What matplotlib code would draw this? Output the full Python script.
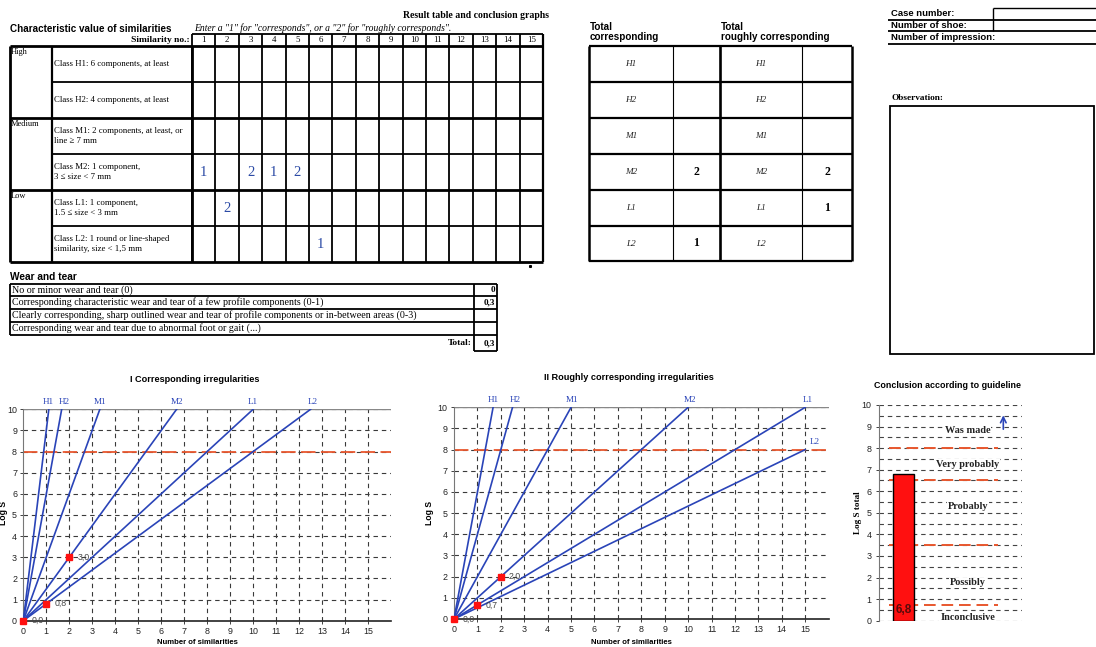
import matplotlib
matplotlib.use("Agg")
import matplotlib.pyplot as plt
from matplotlib.patches import Rectangle

W, H = 1096, 647

# ---------------- data ----------------
class_codes = ["H1", "H2", "M1", "M2", "L1", "L2"]
group_names = ["High", "Medium", "Low"]
class_descr = [
    "Class H1: 6 components, at least",
    "Class H2: 4 components, at least",
    "Class M1: 2 components, at least, or\nline \u2265 7 mm",
    "Class M2: 1 component,\n3 \u2264 size < 7 mm",
    "Class L1: 1 component,\n1.5 \u2264 size < 3 mm",
    "Class L2: 1 round or line-shaped\nsimilarity, size < 1,5 mm",
]
similarity_no = list(range(1, 16))
entry_class = ["M2", "L1", "M2", "M2", "M2", "L2"]
entry_no = [1, 2, 3, 4, 5, 6]
entry_val = ["1", "2", "2", "1", "2", "1"]

total_corr = ["", "", "", "2", "", "1"]
total_rough = ["", "", "", "2", "1", ""]

wear_items = [
    "No or minor wear and tear (0)",
    "Corresponding characteristic wear and tear of a few profile components (0-1)",
    "Clearly corresponding, sharp outlined wear and tear of profile components or in-between areas (0-3)",
    "Corresponding wear and tear due to abnormal foot or gait (...)",
]
wear_values = ["0", "0,3", "", ""]
wear_total = "0,3"

case_fields = ["Case number:", "Number of shoe:", "Number of impression:"]

# Chart I: corresponding irregularities (class lines from origin)
line_end_x_corr = [1.11, 1.67, 3.33, 6.67, 10.0, 12.5]
line_end_y_corr = [10, 10, 10, 10, 10, 10]
pts_x_corr = [0, 1, 2]
pts_y_corr = [0.0, 0.8, 3.0]
pt_labels_corr = ["0,0", "0,8", "3,0"]

# Chart II: roughly corresponding irregularities
line_end_x_rough = [1.67, 2.5, 5.0, 10.0, 15.0, 15.0]
line_end_y_rough = [10, 10, 10, 10, 10, 8]
pts_x_rough = [0, 1, 2]
pts_y_rough = [0.0, 0.67, 2.0]
pt_labels_rough = ["0,0", "0,7", "2,0"]

threshold = 8
x_ticks = list(range(0, 16))
y_ticks = list(range(0, 11))

# Chart III: conclusion
log_s_total = 6.8
log_s_label = "6,8"
conclusion_bounds = [0.75, 3.5, 6.5, 8.0]
conclusion_labels = ["Inconclusive", "Possibly", "Probably", "Very probably", "Was made"]
conclusion_label_y = [0.15, 1.75, 5.3, 7.25, 8.8]
minor_grid = [i * 0.5 for i in range(0, 21)]

# ---------------- styles ----------------
SERIF = "Liberation Serif"
SANS = "Liberation Sans"
BLUE = "#2a44b8"
HAND = "#2b4aa5"
RED = "#ff1010"
ORANGE = "#e8572e"
GRID = "#3a3a3a"

fig = plt.figure(figsize=(W / 100, H / 100), dpi=100)
fig.patch.set_facecolor("white")
bg = fig.add_axes([0, 0, 1, 1])
bg.set_xlim(0, W)
bg.set_ylim(H, 0)
bg.axis("off")


def hline(y, x0, x1, lw=1.0, c="black"):
    bg.plot([x0, x1], [y, y], color=c, lw=lw, solid_capstyle="butt")


def vline(x, y0, y1, lw=1.0, c="black"):
    bg.plot([x, x], [y0, y1], color=c, lw=lw, solid_capstyle="butt")


def txt(x, y, s, **kw):
    bg.text(x, y, s, **kw)


# ---------- headings ----------
txt(403, 16, "Result table and conclusion graphs", family=SERIF, weight="bold", fontsize=7.0, va="center")
txt(10, 29, "Characteristic value of similarities", family=SANS, weight="bold", fontsize=7.1, va="center")
txt(194, 28.5, 'Enter a "1" for "corresponds", or a "2" for "roughly corresponds".',
    family=SERIF, style="italic", fontsize=6.9, va="center")

# ---------- main table ----------
x_cat, x_desc, x_grid0, x_grid1 = 10, 52, 192, 543
col_w = (x_grid1 - x_grid0) / len(similarity_no)
row_edges = [46, 82, 118, 154, 190, 226, 262]
hdr_top = 34

txt(190, 40.5, "Similarity no.:", family=SERIF, weight="bold", fontsize=6.8, ha="right", va="center")
hline(hdr_top, x_grid0, x_grid1, lw=1.3)
for i, n in enumerate(similarity_no):
    cx = x_grid0 + (i + 0.5) * col_w
    txt(cx, 40.5, str(n), family=SERIF, fontsize=6.4, ha="center", va="center")
for i in range(len(similarity_no) + 1):
    xx = x_grid0 + i * col_w
    vline(xx, hdr_top, row_edges[-1], lw=1.3)

for r in range(len(class_codes)):
    y0, y1 = row_edges[r], row_edges[r + 1]
    txt(x_desc + 2, (y0 + y1) / 2, class_descr[r], family=SERIF, fontsize=6.3, va="center",
        linespacing=1.45)
for r, y in enumerate(row_edges):
    if r % 2 == 0:
        hline(y, x_cat, x_grid1, lw=2.0)
    else:
        hline(y, x_desc, x_grid1, lw=1.3)
for g, name in enumerate(group_names):
    txt(x_cat + 1, row_edges[2 * g] + 5.5, name, family=SERIF, fontsize=6.0, va="center")
vline(x_cat, row_edges[0], row_edges[-1], lw=2.0)
vline(x_desc, row_edges[0], row_edges[-1], lw=1.6)
vline(x_grid0, row_edges[0], row_edges[-1], lw=2.0)
vline(x_grid1, hdr_top, row_edges[-1], lw=1.6)

for cls, no, val in zip(entry_class, entry_no, entry_val):
    r = class_codes.index(cls)
    cx = x_grid0 + (no - 0.5) * col_w
    cy = (row_edges[r] + row_edges[r + 1]) / 2
    txt(cx, cy, val, family=SERIF, fontsize=10.5, color=HAND, ha="center", va="center")

bg.plot([530], [266], marker="s", ms=1.2, color="black")

# ---------- totals table ----------
tot_x = [589, 673, 720, 802, 852]
tot_rows = [46, 82, 118, 154, 190, 226, 261]
txt(590, 32, "Total\ncorresponding", family=SANS, weight="bold", fontsize=7.1, va="center", linespacing=1.0)
txt(721, 32, "Total\nroughly corresponding", family=SANS, weight="bold", fontsize=7.1, va="center", linespacing=1.0)
for y in tot_rows:
    hline(y, tot_x[0], tot_x[-1], lw=1.6)
vline(tot_x[0], tot_rows[0], tot_rows[-1], lw=1.8)
vline(tot_x[1], tot_rows[0], tot_rows[-1], lw=0.8)
vline(tot_x[2], tot_rows[0], tot_rows[-1], lw=1.9)
vline(tot_x[3], tot_rows[0], tot_rows[-1], lw=0.8)
vline(tot_x[4], tot_rows[0], tot_rows[-1], lw=1.8)
for r, code in enumerate(class_codes):
    cy = (tot_rows[r] + tot_rows[r + 1]) / 2
    txt((tot_x[0] + tot_x[1]) / 2, cy, code, family=SERIF, style="italic", fontsize=6.6, ha="center", va="center", color="#222222")
    txt((tot_x[2] + tot_x[3]) / 2, cy, code, family=SERIF, style="italic", fontsize=6.6, ha="center", va="center", color="#222222")
    txt((tot_x[1] + tot_x[2]) / 2, cy, total_corr[r], family=SERIF, weight="bold", fontsize=8.5, ha="center", va="center")
    txt((tot_x[3] + tot_x[4]) / 2, cy, total_rough[r], family=SERIF, weight="bold", fontsize=8.5, ha="center", va="center")

# ---------- case block ----------
case_y = [14, 25.5, 37.5]
case_lines = [19.5, 31, 44]
for s, y in zip(case_fields, case_y):
    txt(891, y, s, family=SANS, weight="bold", fontsize=6.8, va="center")
for y in case_lines:
    hline(y, 888, W, lw=1.3)
hline(8, 993, W, lw=1.0)
vline(993, 8, 31, lw=1.0)

txt(891, 98, "Observation:", family=SERIF, weight="bold", fontsize=6.7, va="center")
bg.add_patch(Rectangle((890, 106), 204, 248, fill=False, lw=1.3, ec="black"))

# ---------- wear and tear ----------
txt(10, 277, "Wear and tear", family=SANS, weight="bold", fontsize=7.3, va="center")
w_rows = [284, 296, 309, 322, 335]
w_x0, w_xv, w_x1 = 10, 474, 497
for i, (s, v) in enumerate(zip(wear_items, wear_values)):
    cy = (w_rows[i] + w_rows[i + 1]) / 2
    txt(w_x0 + 2, cy, s, family=SERIF, fontsize=7.2, va="center")
    txt(w_x1 - 1.5, cy, v, family=SERIF, weight="bold", fontsize=6.6, ha="right", va="center")
for y in w_rows:
    hline(y, w_x0, w_x1, lw=1.3)
vline(w_x0, w_rows[0], w_rows[-1], lw=1.3)
vline(w_xv, w_rows[0], 351, lw=1.3)
vline(w_x1, w_rows[0], 351, lw=1.3)
hline(351, w_xv, w_x1, lw=1.3)
txt(472, 343, "Total:", family=SERIF, weight="bold", fontsize=6.8, ha="right", va="center")
txt(w_x1 - 1.5, 343, wear_total, family=SERIF, weight="bold", fontsize=6.6, ha="right", va="center")


# ---------- charts ----------
def rect(x0, y0, x1, y1):
    return [x0 / W, 1 - y1 / H, (x1 - x0) / W, (y1 - y0) / H]


def class_chart(box, end_x, end_y, px, py, plabels, title, title_xy, ylab_x, lbl_offsets):
    ax = fig.add_axes(rect(*box))
    ax.set_facecolor("none")
    ax.set_xlim(0, 16)
    ax.set_ylim(0, 10)
    for v in x_ticks[1:]:
        ax.axvline(v, color=GRID, lw=0.8, ls=(0, (4, 3.5)), zorder=1)
    for v in y_ticks[1:]:
        ax.axhline(v, color=GRID, lw=0.8, ls=(0, (4, 3.5)), zorder=1)
    ax.axhline(threshold, color=ORANGE, lw=1.3, ls=(0, (8, 3)), zorder=2)
    for code, ex, ey, (dx, dy) in zip(class_codes, end_x, end_y, lbl_offsets):
        ax.plot([0, ex], [0, ey], color=BLUE, lw=1.2, zorder=3)
        ax.text(ex + dx, ey + dy, code, family=SERIF, fontsize=6.6, color=BLUE,
                ha="center", va="bottom", clip_on=False)
    ax.plot(px, py, ls="none", marker="s", ms=5, color=RED, zorder=5, clip_on=False)
    for x, y, s in zip(px, py, plabels):
        ax.text(x + 0.35, y, s, family=SANS, fontsize=6.3, color="#444444", va="center", zorder=6)
    ax.set_xticks(x_ticks)
    ax.set_yticks(y_ticks)
    ax.tick_params(labelsize=6.4, length=2, width=0.6, colors="#222222", pad=2.5)
    for lab in ax.get_xticklabels() + ax.get_yticklabels():
        lab.set_family(SANS)
    for side in ["top", "right"]:
        ax.spines[side].set_visible(False)
    ax.spines["left"].set_color("#777777")
    ax.spines["bottom"].set_color("#222222")
    ax.spines["bottom"].set_linewidth(1.2)
    ax.axhline(10, color="#888888", lw=1.0)
    bg.text(title_xy[0], title_xy[1], title, family=SANS, weight="bold", fontsize=6.6,
            ha="center", va="center")
    bg.text(ylab_x, 513, "Log S", family=SANS, weight="bold", fontsize=6.2, rotation=90,
            ha="center", va="center")
    bg.text((box[0] + box[2]) / 2 - 10, 646.5, "Number of similarities", family=SANS, weight="bold",
            fontsize=5.6, ha="center", va="bottom")
    return ax


class_chart((23.3, 409.3, 391, 620.7), line_end_x_corr, line_end_y_corr,
            pts_x_corr, pts_y_corr, pt_labels_corr,
            "I Corresponding irregularities", (195, 380), 4,
            [(0, 0.15), (0.1, 0.15), (0, 0.15), (0, 0.15), (0, 0.15), (0.1, 0.15)])

class_chart((454, 407.3, 828.6, 619), line_end_x_rough, line_end_y_rough,
            pts_x_rough, pts_y_rough, pt_labels_rough,
            "II Roughly corresponding irregularities", (629, 378), 430,
            [(0, 0.15), (0.1, 0.15), (0.05, 0.15), (0.1, 0.15), (0.1, 0.15), (0.4, 0.15)])

# ---------- conclusion chart ----------
axc = fig.add_axes(rect(879, 405, 1022, 620.7))
axc.set_facecolor("none")
axc.set_xlim(-1.17, 5.64)
axc.set_ylim(0, 10)
for v in minor_grid:
    axc.axhline(v, color="#444444", lw=0.8, ls=(0, (4, 3.5)), zorder=1)
for v in conclusion_bounds:
    axc.plot([-0.7, 4.5], [v, v], color=ORANGE, lw=1.4, ls=(0, (6, 3)), zorder=2)
axc.bar([0], [log_s_total], width=1.0, color=RED, edgecolor="black", lw=1.0, zorder=3)
axc.text(0, 0.5, log_s_label, family=SANS, weight="bold", fontsize=8.5, color="#5a0a0a",
         ha="center", va="center", zorder=4)
for s, y in zip(conclusion_labels, conclusion_label_y):
    axc.text(3.05, y, s, family=SERIF, weight="bold", fontsize=7.4, color="#222222",
             ha="center", va="center", zorder=4,
             bbox=dict(fc="white", ec="none", pad=0.5))
axc.annotate("", xy=(4.75, 9.65), xytext=(4.75, 8.75),
             arrowprops=dict(arrowstyle="->", color=BLUE, lw=1.2), zorder=5)
axc.set_yticks(y_ticks)
axc.set_xticks([])
axc.tick_params(labelsize=6.4, length=2.5, width=0.6, colors="#222222", pad=3)
for lab in axc.get_yticklabels():
    lab.set_family(SANS)
for side in ["top", "right", "bottom"]:
    axc.spines[side].set_visible(False)
axc.spines["left"].set_color("#777777")
bg.text(948, 385, "Conclusion according to guideline", family=SANS, weight="bold", fontsize=6.4,
        ha="center", va="center")
bg.text(858, 513, "Log S total", family=SERIF, weight="bold", fontsize=6.6, rotation=90,
        ha="center", va="center")

bg.set_zorder(0)
fig.savefig("out.png", dpi=100, facecolor="white")
